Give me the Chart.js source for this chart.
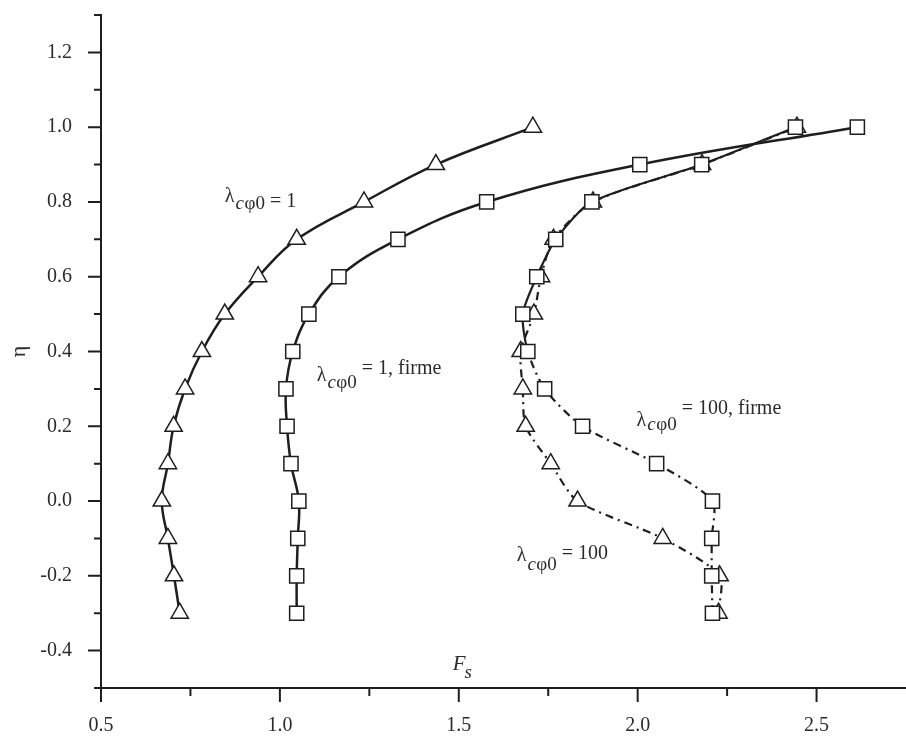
<!DOCTYPE html>
<html>
<head>
<meta charset="utf-8">
<script src="https://cdn.jsdelivr.net/npm/chart.js@4.4.1/dist/chart.umd.min.js"></script>
<style>
  body { margin: 0; background: #fff; }
  canvas { display: block; }
</style>
</head>
<body>
<canvas id="chart" width="906" height="736"></canvas>
<script>
// eta levels shared by every curve
const etaLevels = [-0.3, -0.2, -0.1, 0.0, 0.1, 0.2, 0.3, 0.4, 0.5, 0.6, 0.7, 0.8, 0.9, 1.0];

// Fs values
const fsLambda1 = [0.72, 0.704, 0.687, 0.67, 0.687, 0.703, 0.735, 0.782, 0.846, 0.939, 1.047, 1.235, 1.436, 1.707];
const fsLambda1Firme = [1.047, 1.047, 1.05, 1.053, 1.031, 1.02, 1.017, 1.036, 1.081, 1.165, 1.33, 1.578, 2.006, 2.614];
const fsLambda100Firme = [2.209, 2.207, 2.207, 2.209, 2.053, 1.846, 1.74, 1.693, 1.679, 1.718, 1.771, 1.872, 2.179, 2.441];
const fsLambda100 = [2.226, 2.229, 2.07, 1.832, 1.757, 1.687, 1.679, 1.673, 1.71, 1.73, 1.765, 1.875, 2.18, 2.445];

const xTickLabels = ["0.5", "1.0", "1.5", "2.0", "2.5"];
const yTickLabels = ["-0.4", "-0.2", "0.0", "0.2", "0.4", "0.6", "0.8", "1.0", "1.2"];

const ink = "#1e1e1e";
const textColor = "#2b2b2b";
const serif = "'Liberation Serif', 'Times New Roman', serif";
const dashDot = [8, 5, 2, 5];

const toPoints = (fs) => fs.map((v, i) => ({ x: v, y: etaLevels[i] }));

// curve labels, placed in data units (left edge of the lambda, baseline)
const curveLabels = [
    { x: 0.846, y: 0.8, rest: "= 1", subDy: 7, restDy: 5 },
    { x: 1.103, y: 0.32, rest: "= 1, firme", subDy: 7, restDy: -7 },
    { x: 1.997, y: 0.2, rest: "= 100, firme", subDy: 4, restDy: -12 },
    { x: 1.662, y: -0.16, rest: "= 100", subDy: 9, restDy: -2 },
];

const baseDataset = {
    showLine: true,
    borderColor: ink,
    borderWidth: 2.5,
    pointRadius: 10,
    pointHoverRadius: 10,
    pointBackgroundColor: "#fff",
    pointBorderColor: ink,
    pointBorderWidth: 1.5,
    fill: false,
};

const tickMarks = {
    id: "tickMarks",
    afterDraw(chart) {
        const ctx = chart.ctx;
        const xs = chart.scales.x;
        const ys = chart.scales.y;
        const area = chart.chartArea;
        ctx.save();
        ctx.strokeStyle = ink;
        ctx.lineWidth = 2;
        ctx.beginPath();
        xs.ticks.forEach((t) => {
            const px = xs.getPixelForValue(t.value);
            if (px > area.right - 2) return;
            const len = t.label !== "" ? 14 : 8;
            ctx.moveTo(px, area.bottom);
            ctx.lineTo(px, area.bottom + len);
        });
        ys.ticks.forEach((t) => {
            const py = ys.getPixelForValue(t.value);
            const len = t.label !== "" ? 13 : 7;
            ctx.moveTo(area.left - len, py);
            ctx.lineTo(area.left, py);
        });
        ctx.stroke();
        ctx.restore();
    },
};

const textLabels = {
    id: "textLabels",
    afterDraw(chart) {
        const ctx = chart.ctx;
        const xs = chart.scales.x;
        const ys = chart.scales.y;
        ctx.save();
        ctx.fillStyle = textColor;
        ctx.textBaseline = "alphabetic";
        ctx.textAlign = "left";
        curveLabels.forEach((lab) => {
            let px = xs.getPixelForValue(lab.x);
            const py = ys.getPixelForValue(lab.y);
            ctx.font = "20px " + serif;
            ctx.fillText("λ", px, py);
            px += ctx.measureText("λ").width + 1;
            ctx.font = "italic 19px " + serif;
            ctx.fillText("c", px, py + lab.subDy);
            px += ctx.measureText("c").width + 0.5;
            ctx.font = "19px " + serif;
            ctx.fillText("φ0", px, py + lab.subDy);
            px += ctx.measureText("φ0").width + 5;
            ctx.font = "20px " + serif;
            ctx.fillText(lab.rest, px, py + lab.restDy);
        });
        // axis name for Fs, sitting just above the x axis
        let fx = xs.getPixelForValue(1.483);
        const fy = ys.getPixelForValue(-0.453);
        ctx.font = "italic 21px " + serif;
        ctx.fillText("F", fx, fy);
        fx += ctx.measureText("F").width - 1;
        ctx.font = "italic 19px " + serif;
        ctx.fillText("s", fx, fy + 8);
        ctx.restore();
    },
};

const ctx = document.getElementById("chart");

new Chart(ctx, {
    type: "scatter",
    data: {
        datasets: [
            {
                ...baseDataset,
                label: "λcφ0 = 1",
                data: toPoints(fsLambda1),
                pointStyle: "triangle",
                tension: 0.4,
            },
            {
                ...baseDataset,
                label: "λcφ0 = 1, firme",
                data: toPoints(fsLambda1Firme),
                pointStyle: "rect",
                tension: 0.4,
            },
            {
                ...baseDataset,
                label: "λcφ0 = 100, firme",
                data: toPoints(fsLambda100Firme),
                pointStyle: "rect",
                borderWidth: 2.2,
                tension: 0.25,
                segment: {
                    // upper branch is drawn solid, lower branch dash-dot
                    borderDash: (c) => (c.p0.parsed.y > 0.35 && c.p1.parsed.y > 0.35 ? [] : dashDot),
                },
            },
            {
                ...baseDataset,
                label: "λcφ0 = 100",
                data: toPoints(fsLambda100),
                pointStyle: "triangle",
                borderWidth: 2.2,
                borderDash: dashDot,
                tension: 0.25,
            },
        ],
    },
    options: {
        responsive: false,
        animation: false,
        layout: {
            autoPadding: false,
            padding: { top: 15, left: 0, right: 0, bottom: 0 },
        },
        plugins: {
            legend: { display: false },
            tooltip: { enabled: false },
        },
        scales: {
            x: {
                type: "linear",
                min: 0.5,
                max: 2.75,
                grid: { display: false, drawTicks: false },
                border: { display: true, color: ink, width: 2 },
                ticks: {
                    stepSize: 0.25,
                    autoSkip: false,
                    maxRotation: 0,
                    padding: 26,
                    color: textColor,
                    font: { family: serif, size: 20 },
                    callback: (v) => {
                        const s = Number(v).toFixed(1);
                        return Math.abs(v * 2 - Math.round(v * 2)) < 1e-6 && xTickLabels.includes(s) ? s : "";
                    },
                },
                afterFit: (scale) => {
                    scale.height = 48;
                    scale.paddingLeft = 0;
                    scale.paddingRight = 0;
                },
            },
            y: {
                type: "linear",
                min: -0.5,
                max: 1.3,
                grid: { display: false, drawTicks: false },
                border: { display: true, color: ink, width: 2 },
                title: {
                    display: true,
                    text: "η",
                    color: textColor,
                    font: { family: serif, size: 22 },
                    padding: { top: 6, bottom: 0 },
                },
                ticks: {
                    stepSize: 0.1,
                    autoSkip: false,
                    padding: 29,
                    color: textColor,
                    font: { family: serif, size: 20 },
                    callback: (v) => {
                        const s = Number(v).toFixed(1);
                        return yTickLabels.includes(s) ? s : "";
                    },
                },
                afterFit: (scale) => {
                    scale.width = 101;
                    scale.paddingTop = 0;
                    scale.paddingBottom = 0;
                },
            },
        },
    },
    plugins: [tickMarks, textLabels],
});
</script>
</body>
</html>
